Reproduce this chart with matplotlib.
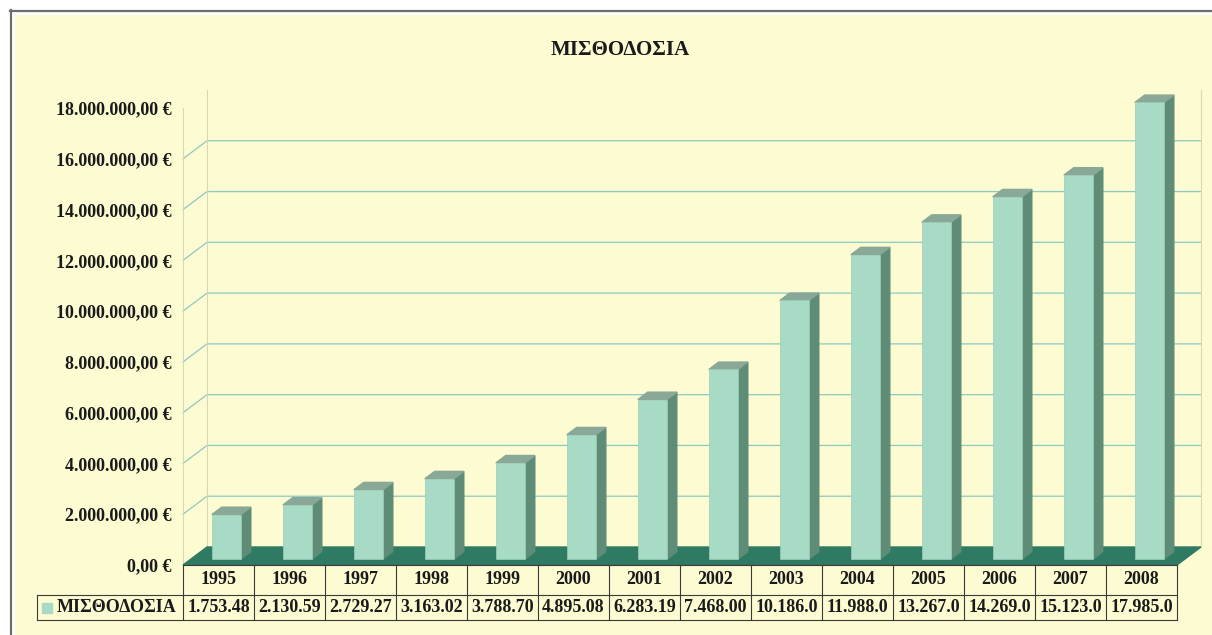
import matplotlib
matplotlib.use("Agg")
import matplotlib.pyplot as plt
from matplotlib.patches import Polygon, Rectangle
from matplotlib.lines import Line2D
from matplotlib import transforms

# payroll per year, in thousands of euro
years = ["1995", "1996", "1997", "1998", "1999", "2000", "2001",
         "2002", "2003", "2004", "2005", "2006", "2007", "2008"]
payroll = [1753.48, 2130.59, 2729.27, 3163.02, 3788.70, 4895.08, 6283.19,
           7468.00, 10186.0, 11988.0, 13267.0, 14269.0, 15123.0, 17985.0]
# the table shows the numbers cut short, as in the source
cell_labels = ["1.753.48", "2.130.59", "2.729.27", "3.163.02", "3.788.70",
               "4.895.08", "6.283.19", "7.468.00", "10.186.0", "11.988.0",
               "13.267.0", "14.269.0", "15.123.0", "17.985.0"]
y_ticks = [0, 2000, 4000, 6000, 8000, 10000, 12000, 14000, 16000, 18000]
series_name = "ΜΙΣΘΟΔΟΣΙΑ"

plt.rcParams['font.family'] = ['Liberation Serif', 'DejaVu Serif']
plt.rcParams['font.weight'] = 'bold'

bg = "#FCFBD2"
face = "#A7DBC5"
side = "#5E8C77"
top = "#8AA897"
floor = "#2F7A62"
grid = "#8EC9C2"
wall = "#D9D7B4"
line = "#3A3A3A"
txt = "#1A1A1A"

W, H = 1212, 635
fig = plt.figure(figsize=(W / 100, H / 100), dpi=100)
fig.patch.set_facecolor("white")


def fx(px):
    return px / W


def fy(py):
    return 1 - py / H


# page background and frame
fig.patches.append(Rectangle((fx(15), fy(634)), fx(W) - fx(15), fy(15) - fy(634),
                             transform=fig.transFigure, color=bg, zorder=-10))
fig.add_artist(Line2D([fx(11), fx(11)], [fy(10), 0], color="#6E6E6E", lw=1.6))
fig.add_artist(Line2D([fx(10), 1], [fy(11), fy(11)], color="#6E6E6E", lw=1.6))

# front plane of the 3d box
x0, x1, ytop, ybot = 183, 1177, 108, 565
ax = fig.add_axes([fx(x0), fy(ybot), fx(x1) - fx(x0), fy(ytop) - fy(ybot)])
ax.set_zorder(1)
ax.set_xlim(-0.5, len(years) - 0.5)
ax.set_ylim(0, 18000)
ax.patch.set_visible(False)
for s in ax.spines.values():
    s.set_visible(False)

# depth offset of the chart in data units
ppx = (x1 - x0) / len(years)
ppy = (ybot - ytop) / 18000
DX = 24 / ppx
DY = 18 / ppy

xl, xr = -0.5, len(years) - 0.5

# walls and gridlines
for v in y_ticks[1:-1]:
    ax.plot([xl, xl + DX, xr + DX], [v, v + DY, v + DY], color=grid, lw=0.9,
            clip_on=False, zorder=1)
ax.plot([xl + DX, xl + DX], [DY, 18000 + DY], color=wall, lw=0.8, clip_on=False, zorder=1)
ax.plot([xr + DX, xr + DX], [DY, 18000 + DY], color=wall, lw=0.8, clip_on=False, zorder=1)
ax.plot([xl, xl], [0, 18000], color=wall, lw=0.8, clip_on=False, zorder=1)

# floor
ax.add_patch(Polygon([(xl, 0), (xr, 0), (xr + DX, DY), (xl + DX, DY)],
                     closed=True, color=floor, clip_on=False, zorder=2))

# bars
w = 0.41
f0, f1 = 0.33, 0.74
for i, v in enumerate(payroll):
    left = i - w / 2 + f0 * DX
    right = i + w / 2 + f0 * DX
    b0 = f0 * DY
    ax.add_patch(Polygon([(right, b0), (right + (f1 - f0) * DX, f1 * DY),
                          (right + (f1 - f0) * DX, v + f1 * DY), (right, v + b0)],
                         closed=True, color=side, clip_on=False, zorder=3))
    ax.add_patch(Polygon([(left, v + b0), (right, v + b0),
                          (right + (f1 - f0) * DX, v + f1 * DY),
                          (left + (f1 - f0) * DX, v + f1 * DY)],
                         closed=True, color=top, clip_on=False, zorder=3))
    ax.bar(i + f0 * DX, v, width=w, bottom=b0, color=face, edgecolor="#9CCDB6",
           lw=0.5, clip_on=False, zorder=4)


def euro(v, pos=None):
    s = f"{v * 1000:,.2f}"
    return s.replace(",", "X").replace(".", ",").replace("X", ".") + " €"


ax.set_yticks(y_ticks)
ax.set_yticklabels([euro(v) for v in y_ticks], fontsize=13, fontweight='bold', color=txt)
ax.tick_params(axis='y', length=0, pad=8)
ax.set_xticks([])

# data table
tr = transforms.blended_transform_factory(ax.transData, fig.transFigure)
r0, r1, r2 = fy(565), fy(595), fy(620)
ax.plot([xl, xr], [r0, r0], color=line, lw=0.8, transform=tr, clip_on=False)
for i in range(len(years) + 1):
    ax.plot([xl + i, xl + i], [r0, r2], color=line, lw=0.8, transform=tr, clip_on=False)
fig.add_artist(Line2D([fx(37), fx(x1)], [r1, r1], color=line, lw=0.8))
fig.add_artist(Line2D([fx(37), fx(x1)], [r2, r2], color=line, lw=0.8))
fig.add_artist(Line2D([fx(37), fx(37)], [r1, r2], color=line, lw=0.8))
for i, (yr, lab) in enumerate(zip(years, cell_labels)):
    ax.text(i, fy(580), yr, transform=tr, ha='center', va='center',
            fontsize=13, fontweight='bold', color=txt)
    ax.text(i, fy(608), lab, transform=tr, ha='center', va='center',
            fontsize=13, fontweight='bold', color=txt)

fig.patches.append(Rectangle((fx(42), fy(613)), fx(52) - fx(42), fy(603) - fy(613),
                             transform=fig.transFigure, color=face, zorder=3))
fig.text(fx(57), fy(608), series_name, ha='left', va='center',
         fontsize=13, fontweight='bold', color=txt)

# title
fig.text(fx(620), fy(50), "ΜΙΣΘΟΔΟΣΙΑ", ha='center', va='center',
         fontsize=15, fontweight='bold', color=txt)

fig.savefig("out.png", dpi=100)
